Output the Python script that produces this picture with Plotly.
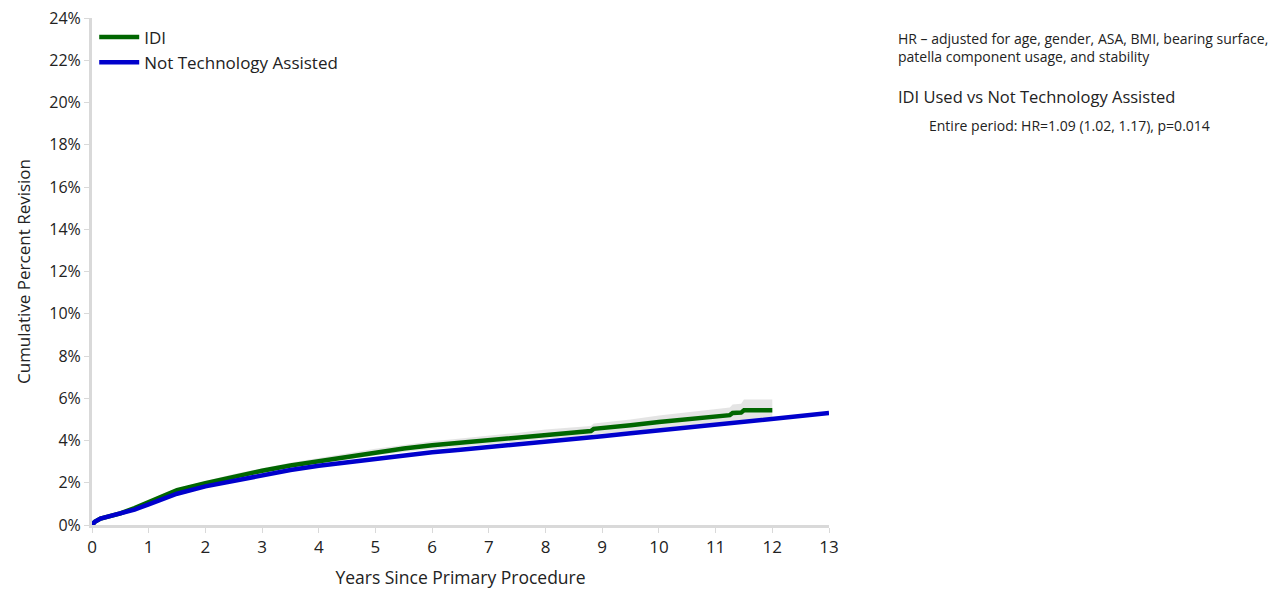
import plotly.graph_objects as go

# Data (years, cumulative percent revision)
years_idi = [0, 0.05, 0.15, 0.3, 0.5, 0.75, 1, 1.25, 1.5, 2, 2.5, 3, 3.5, 4, 4.5, 5, 5.5, 6, 6.5, 7,
             7.5, 8, 8.5, 8.8, 8.85, 9, 9.5, 10, 10.5, 11, 11.25, 11.3, 11.45, 11.5, 12]
idi = [0, 0.15, 0.3, 0.4, 0.55, 0.8, 1.1, 1.4, 1.65, 1.98, 2.3, 2.57, 2.82, 3.03, 3.25, 3.45, 3.62, 3.78,
       3.9, 4.02, 4.15, 4.3, 4.4, 4.45, 4.55, 4.58, 4.72, 4.88, 5.02, 5.15, 5.2, 5.3, 5.32, 5.43, 5.43]
idi_upper = [0, 0.17, 0.33, 0.44, 0.6, 0.86, 1.17, 1.48, 1.74, 2.08, 2.41, 2.69, 2.95, 3.17, 3.4, 3.61,
             3.79, 3.96, 4.09, 4.22, 4.36, 4.52, 4.63, 4.69, 4.8, 4.84, 5.0, 5.18, 5.33, 5.48, 5.56, 5.7,
             5.74, 5.94, 5.94]
idi_lower = [0, 0.13, 0.27, 0.36, 0.5, 0.74, 1.03, 1.32, 1.56, 1.88, 2.19, 2.45, 2.69, 2.89, 3.1, 3.29,
             3.45, 3.6, 3.71, 3.82, 3.94, 4.08, 4.17, 4.21, 4.3, 4.32, 4.44, 4.58, 4.71, 4.82, 4.85, 4.92,
             4.93, 4.98, 4.98]

years_nta = [0, 0.05, 0.15, 0.3, 0.5, 0.75, 1, 1.25, 1.5, 2, 2.5, 3, 3.5, 4, 4.5, 5, 5.5, 6, 6.5, 7,
             7.5, 8, 8.5, 9, 9.5, 10, 10.5, 11, 11.5, 12, 12.5, 13]
nta = [0, 0.15, 0.3, 0.4, 0.52, 0.73, 0.98, 1.25, 1.48, 1.83, 2.1, 2.36, 2.6, 2.8, 2.97, 3.13, 3.29,
       3.44, 3.56, 3.68, 3.81, 3.95, 4.07, 4.2, 4.34, 4.48, 4.62, 4.76, 4.9, 5.04, 5.17, 5.3]

x_ticks = list(range(0, 14))
y_ticks = list(range(0, 25, 2))
y_tick_labels = [f"{v}%" for v in y_ticks]

FONT = "Open Sans, Lato, sans-serif"

fig = go.Figure()

fig.add_trace(go.Scatter(x=years_idi, y=idi_upper, mode="lines", line=dict(width=0),
                         showlegend=False, hoverinfo="skip"))
fig.add_trace(go.Scatter(x=years_idi, y=idi_lower, mode="lines", line=dict(width=0),
                         fill="tonexty", fillcolor="rgba(205,205,205,0.55)", showlegend=False,
                         hoverinfo="skip"))
fig.add_trace(go.Scatter(x=years_idi, y=idi, mode="lines", name="IDI",
                         line=dict(color="#006600", width=4.5)))
fig.add_trace(go.Scatter(x=years_nta, y=nta, mode="lines", name="Not Technology Assisted",
                         line=dict(color="#0000CC", width=4.5)))

fig.update_layout(
    width=1282, height=590,
    margin=dict(l=84, r=461, t=10, b=73, autoexpand=False),
    paper_bgcolor="white", plot_bgcolor="white",
    font=dict(family=FONT, size=16, color="#222222"),
    legend=dict(x=0.003, y=0.997, xanchor="left", yanchor="top", bgcolor="rgba(0,0,0,0)",
                font=dict(size=17), traceorder="normal", tracegroupgap=0, itemwidth=40),
    xaxis=dict(range=[0, 13], tickvals=x_ticks, showgrid=False, zeroline=False, automargin=False,
               showline=True, linecolor="#d9d9d9", linewidth=3, ticklabeloverflow="allow",
               ticks="outside", ticklen=5, tickcolor="#d9d9d9", tickfont=dict(size=17),
               title=dict(text="Years Since Primary Procedure", font=dict(size=17.5))),
    yaxis=dict(range=[0, 24], tickvals=y_ticks, ticktext=y_tick_labels, showgrid=False,
               zeroline=False, showline=True, linecolor="#d9d9d9", linewidth=3, automargin=False,
               ticklabeloverflow="allow",
               ticks="outside", ticklen=5, tickcolor="#d9d9d9", tickfont=dict(size=16),
               title=dict(text="Cumulative Percent Revision", font=dict(size=17))),
)

fig.add_annotation(xref="paper", yref="paper", x=1.091, y=0.982, xanchor="left", yanchor="top",
                   showarrow=False, align="left",
                   text="HR – adjusted for age, gender, ASA, BMI, bearing surface,<br>patella component usage, and stability",
                   font=dict(size=14, family=FONT))
fig.add_annotation(xref="paper", yref="paper", x=1.091, y=0.872, xanchor="left", yanchor="top",
                   showarrow=False, align="left",
                   text="IDI Used vs Not Technology Assisted", font=dict(size=16.5, family=FONT))
fig.add_annotation(xref="paper", yref="paper", x=1.133, y=0.81, xanchor="left", yanchor="top",
                   showarrow=False, align="left",
                   text="Entire period: HR=1.09 (1.02, 1.17), p=0.014", font=dict(size=14, family=FONT))

fig.write_html("out.html")
